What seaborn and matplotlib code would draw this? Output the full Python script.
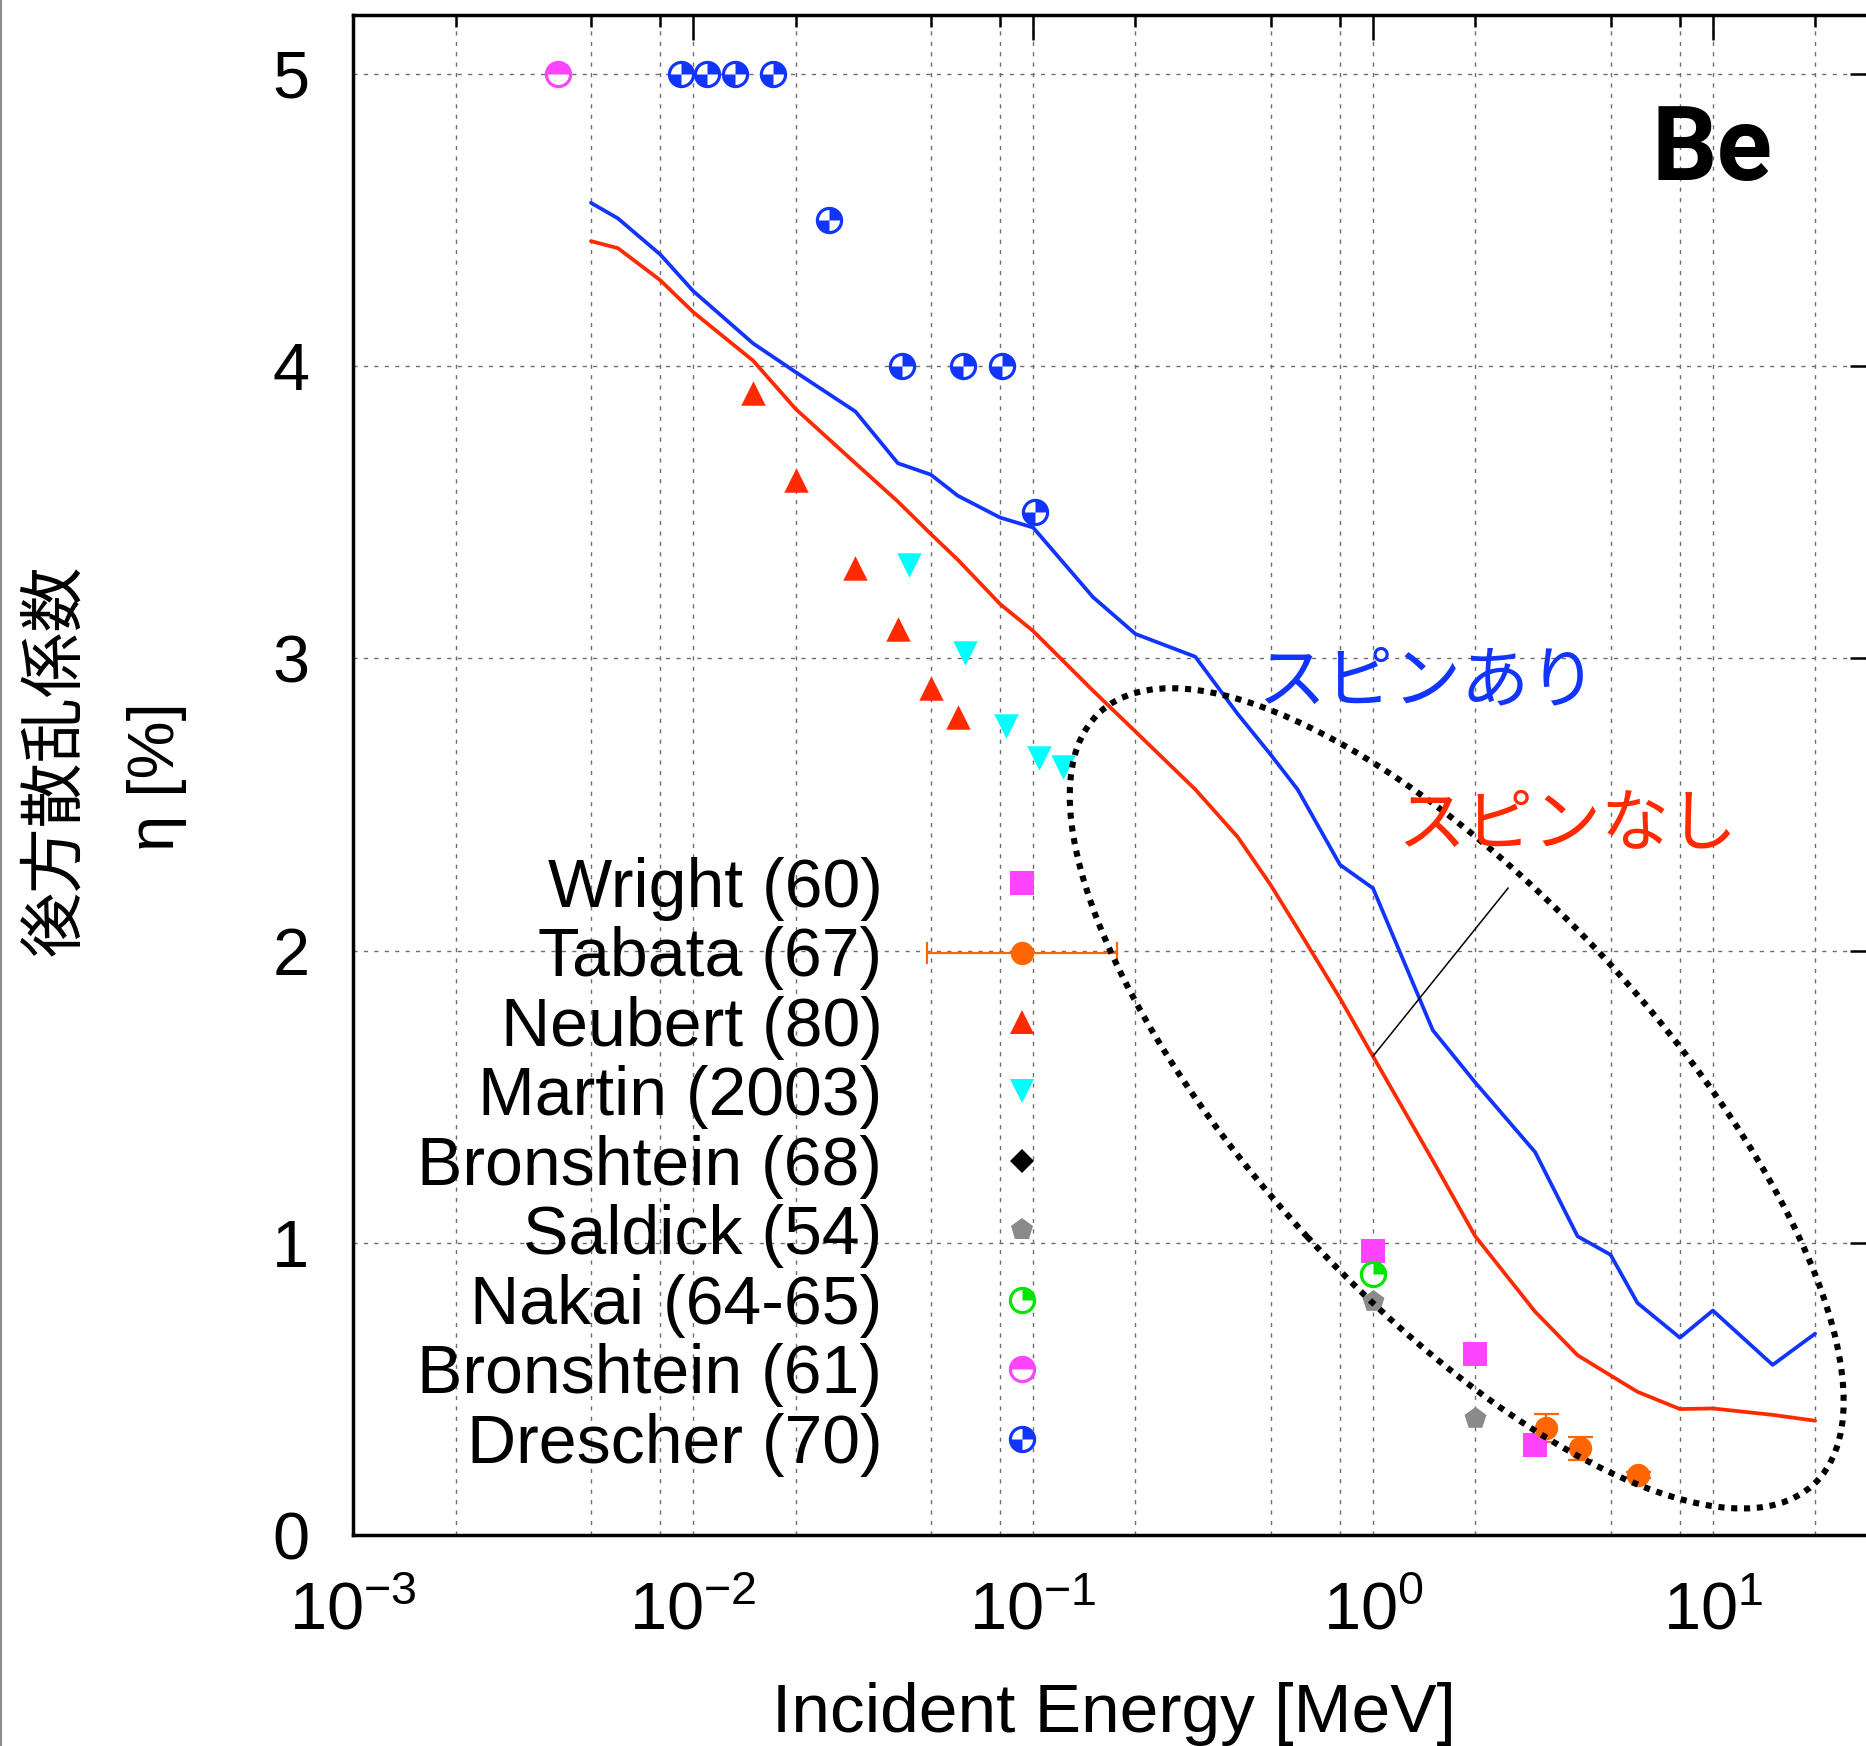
import numpy as np
import pandas as pd
import matplotlib
matplotlib.use("Agg")
import matplotlib.pyplot as plt
import seaborn as sns
from matplotlib.lines import Line2D
from matplotlib.path import Path
from matplotlib.patches import Ellipse
from matplotlib.legend_handler import HandlerBase
from matplotlib.ticker import LogLocator, NullFormatter, FixedLocator

# ---------------- data ----------------
sim_energy = [0.005, 0.006, 0.008, 0.01, 0.015, 0.02, 0.03, 0.04, 0.05, 0.06, 0.08, 0.1,
              0.15, 0.2, 0.3, 0.4, 0.5, 0.6, 0.8, 1.0, 1.5, 2.0, 3.0, 4.0, 5.0, 6.0, 8.0,
              10.0, 15.0, 20.0]
eta_spin = [4.559, 4.506, 4.382, 4.257, 4.078, 3.98, 3.845, 3.668, 3.629, 3.557, 3.482, 3.448,
            3.21, 3.084, 3.006, 2.81, 2.671, 2.552, 2.294, 2.214, 1.728, 1.549, 1.311, 1.023,
            0.960, 0.795, 0.676, 0.769, 0.583, 0.690]
eta_nospin = [4.428, 4.404, 4.294, 4.185, 4.019, 3.854, 3.668, 3.537, 3.426, 3.338, 3.186, 3.094,
              2.89, 2.75, 2.552, 2.389, 2.225, 2.076, 1.837, 1.639, 1.282, 1.023, 0.765, 0.616,
              0.547, 0.491, 0.432, 0.434, 0.412, 0.392]

wright_E = [1.0, 2.0, 3.0]
wright_eta = [0.974, 0.622, 0.309]
tabata_E = [3.22, 4.06, 6.03]
tabata_eta = [0.367, 0.297, 0.207]
tabata_err = [0.049, 0.038, 0.01]
neubert_E = [0.015, 0.02, 0.03, 0.04, 0.05, 0.06]
neubert_eta = [3.91, 3.61, 3.31, 3.10, 2.90, 2.80]
martin_E = [0.043, 0.063, 0.083, 0.104, 0.1225]
martin_eta = [3.32, 3.02, 2.77, 2.66, 2.63]
bron68_E = []
bron68_eta = []
saldick_E = [1.0, 2.0]
saldick_eta = [0.80, 0.40]
nakai_E = [1.0]
nakai_eta = [0.895]
bron61_E = [0.0040]
bron61_eta = [5.0]
drescher_E = [0.0092, 0.011, 0.0133, 0.0172, 0.025, 0.041, 0.062, 0.081, 0.1015]
drescher_eta = [5.0, 5.0, 5.0, 5.0, 4.5, 4.0, 4.0, 4.0, 3.5]

legend_labels = ['Wright (60)', 'Tabata (67)', 'Neubert (80)', 'Martin (2003)',
                 'Bronshtein (68)', 'Saldick (54)', 'Nakai (64-65)', 'Bronshtein (61)',
                 'Drescher (70)']
xtick_values = [1e-3, 1e-2, 1e-1, 1.0, 10.0]
xtick_labels = [r'$\mathregular{10^{-3}}$', r'$\mathregular{10^{-2}}$', r'$\mathregular{10^{-1}}$',
                r'$\mathregular{10^{0}}$', r'$\mathregular{10^{1}}$']
ytick_values = [0, 1, 2, 3, 4, 5]

# ---------------- style ----------------
BLUE = '#1234ff'
RED = '#ff2a00'
ORANGE = '#ff6600'
MAGENTA = '#ff44ff'
CYAN = '#00ffff'
GREEN = '#00e600'
GREY = '#8a8a8a'

sns.set_theme(style='white')
plt.rcParams['font.family'] = ['Liberation Sans', 'Noto Sans CJK JP', 'DejaVu Sans']
plt.rcParams['mathtext.default'] = 'regular'
plt.rcParams['text.color'] = 'black'
plt.rcParams['axes.labelcolor'] = 'black'
plt.rcParams['xtick.color'] = 'black'
plt.rcParams['ytick.color'] = 'black'
plt.rcParams['legend.labelcolor'] = 'black'

fig = plt.figure(figsize=(18.66, 17.46), dpi=100)
ax = fig.add_axes([0.18939, 0.12068, 0.81543, 0.87045])
ax.set_xscale('log')

# simulation lines (seaborn)
n = len(sim_energy)
sim = pd.DataFrame({'E': sim_energy + sim_energy,
                    'eta': eta_spin + eta_nospin,
                    'model': ['spin'] * n + ['nospin'] * n})
sns.lineplot(data=sim, x='E', y='eta', hue='model', palette={'spin': BLUE, 'nospin': RED},
             estimator=None, sort=False, lw=2.7, legend=False, ax=ax, zorder=3)

MS = 17.6
CMS = 17.4
MEW = 2.3


def quadrant_marker(quads):
    verts, codes = [], []
    for q in quads:
        th = np.linspace(np.pi / 2 * (q - 1), np.pi / 2 * q, 16)
        pts = [(0.0, 0.0)] + [(np.cos(t), np.sin(t)) for t in th] + [(0.0, 0.0)]
        verts += pts
        codes += [Path.MOVETO] + [Path.LINETO] * len(th) + [Path.CLOSEPOLY]
    return Path(verts, codes)


def simple_scatter(E, eta, marker, color, ms):
    if len(E):
        sns.scatterplot(x=E, y=eta, marker=marker, color=color, s=ms ** 2, linewidth=0,
                        ax=ax, zorder=6, legend=False)
    return Line2D([], [], ls='none', marker=marker, ms=ms, mfc=color, mec=color, mew=0)


def quad_scatter(E, eta, color, quads):
    mk = quadrant_marker(quads)
    ax.plot(E, eta, ls='none', marker='o', ms=CMS, mfc='white', mec=color, mew=MEW, zorder=6)
    ax.plot(E, eta, ls='none', marker=mk, ms=CMS, mfc=color, mec=color, mew=0, zorder=7)
    h1 = Line2D([], [], ls='none', marker='o', ms=CMS, mfc='white', mec=color, mew=MEW)
    h2 = Line2D([], [], ls='none', marker=mk, ms=CMS, mfc=color, mec=color, mew=0)
    return (h1, h2)


h_wright = simple_scatter(wright_E, wright_eta, 's', MAGENTA, 17.8)
ax.errorbar(tabata_E, tabata_eta, yerr=tabata_err, fmt='none', ecolor=ORANGE, elinewidth=1.6,
            capsize=9, capthick=1.6, zorder=5)
simple_scatter(tabata_E, tabata_eta, 'o', ORANGE, 16.8)
h_tabata = Line2D([], [], color=ORANGE)
h_neubert = simple_scatter(neubert_E, neubert_eta, '^', RED, MS)
h_martin = simple_scatter(martin_E, martin_eta, 'v', CYAN, MS)
h_bron68 = simple_scatter(bron68_E, bron68_eta, 'D', 'black', 12.2)
h_saldick = simple_scatter(saldick_E, saldick_eta, 'p', GREY, 16.6)
h_nakai = quad_scatter(nakai_E, nakai_eta, GREEN, [1])
h_bron61 = quad_scatter(bron61_E, bron61_eta, MAGENTA, [1, 2])
h_drescher = quad_scatter(drescher_E, drescher_eta, BLUE, [1, 3])


class ErrKeyHandler(HandlerBase):
    def create_artists(self, legend, orig_handle, xdescent, ydescent, width, height,
                       fontsize, trans):
        y = height / 2 - ydescent
        x0, x1 = -xdescent, width - xdescent
        bar = Line2D([x0, x1], [y, y], color=ORANGE, lw=1.6)
        caps = Line2D([x0, x1], [y, y], ls='none', marker='|', ms=16, mew=1.6, color=ORANGE)
        dot = Line2D([(x0 + x1) / 2], [y], ls='none', marker='o', ms=16.8, mfc=ORANGE,
                     mec=ORANGE, mew=0)
        for a in (bar, caps, dot):
            a.set_transform(trans)
        return [bar, caps, dot]


handles = [h_wright, h_tabata, h_neubert, h_martin, h_bron68, h_saldick, h_nakai, h_bron61,
           h_drescher]
leg = ax.legend(handles, legend_labels, loc='center right', bbox_to_anchor=(0.502, 0.2425),
                frameon=False, markerfirst=False, handlelength=2.8, handletextpad=0.65,
                labelspacing=0.08, borderpad=0, borderaxespad=0, fontsize=49, numpoints=1,
                labelcolor='black', handler_map={h_tabata: ErrKeyHandler()})
leg.set_zorder(8)

# ellipse highlighting the MeV region
ell = Ellipse((0.7251, 0.2875), 0.6915, 0.2679, angle=-47.3, transform=ax.transAxes,
              fill=False, ec='black', lw=4.4, ls=(0, (1, 1.1)), zorder=9, clip_on=False)
ax.add_patch(ell)

ax.annotate('', xy=(1.0, 1.639), xytext=(2.5, 2.215),
            arrowprops=dict(arrowstyle='-', color='black', lw=1.1, shrinkA=0, shrinkB=0),
            zorder=9)

ax.text(0.455, 2.92, 'スピンあり', color=BLUE, fontsize=49, family=['Noto Sans CJK JP'],
        ha='left', va='center', zorder=9)
ax.text(1.18, 2.427, 'スピンなし', color=RED, fontsize=49, family=['Noto Sans CJK JP'],
        ha='left', va='center', zorder=9)

fig.text(1652 / 1866, 1 - 180 / 1746, 'Be', fontsize=74, family=['Roboto', 'DejaVu Sans'],
         weight='bold', ha='left', va='baseline', color='black')

# axes
ax.set_xlim(1e-3, 30)
ax.set_ylim(0, 5.2)
ax.xaxis.set_major_locator(FixedLocator(xtick_values))
ax.set_xticklabels(xtick_labels)
ax.xaxis.set_minor_locator(LogLocator(base=10, subs=[2, 5, 8], numticks=20))
ax.xaxis.set_minor_formatter(NullFormatter())
ax.set_yticks(ytick_values)
ax.set_yticklabels([str(v) for v in ytick_values])

ax.tick_params(which='both', direction='in', top=True, right=True, colors='black',
               labelcolor='black')
ax.tick_params(which='major', length=18, width=1.8)
ax.tick_params(which='minor', length=8.6, width=1.8)
ax.tick_params(axis='x', which='major', labelsize=48, pad=33)
ax.tick_params(axis='y', which='major', labelsize=48, pad=31.7)

for s in ax.spines.values():
    s.set_color('black')
    s.set_linewidth(2.5)

ax.set_axisbelow(True)
ax.grid(True, axis='x', which='both', color='#6e6e6e', lw=1.0, ls=(0, (3, 4.5)))
ax.grid(True, axis='y', which='major', color='#6e6e6e', lw=1.0, ls=(0, (3, 4.5)))

ax.set_xlabel('Incident Energy [MeV]', fontsize=50, color='black')
ax.xaxis.set_label_coords(0.5, -0.0965)
ax.set_ylabel('')

fig.text(56 / 1866, 1 - 760 / 1746, '後方散乱係数', rotation=90, ha='center', va='center',
         fontsize=47, family=['Noto Sans CJK JP'], color='black')
fig.text(157 / 1866, 1 - 777 / 1746, 'η [%]', rotation=90, ha='center', va='center',
         fontsize=47, family=['Liberation Sans', 'Noto Sans CJK JP'], color='black')

fig.add_artist(Line2D([0.0008, 0.0008], [0, 1], transform=fig.transFigure, color='#8c8c8c',
                      lw=1.5))

fig.savefig('out.png', dpi=100)
